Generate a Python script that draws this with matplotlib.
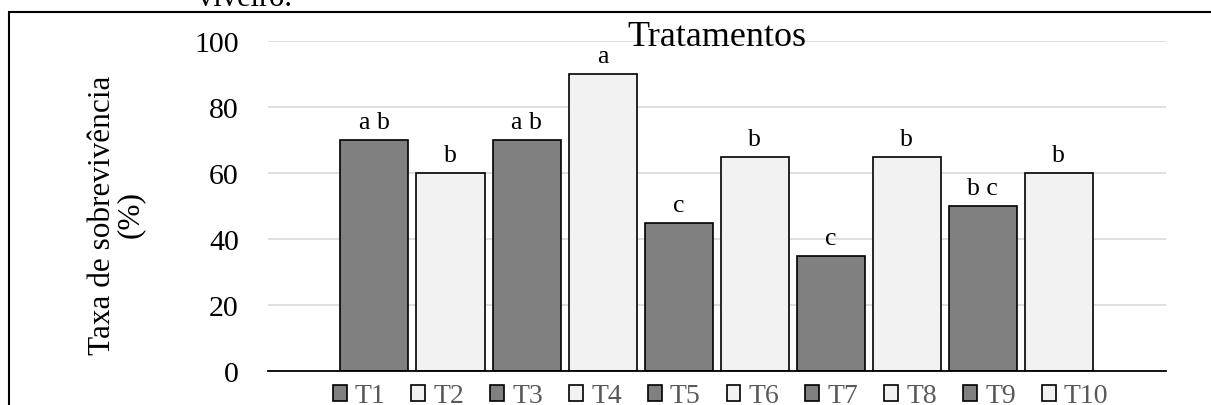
"""Survival rate per treatment, bar chart with significance letters."""

import matplotlib
matplotlib.use("Agg")
import matplotlib.pyplot as plt
from matplotlib.patches import Rectangle, Patch

plt.rcParams["font.family"] = ["Liberation Serif", "DejaVu Serif"]

treatments = ["T1", "T2", "T3", "T4", "T5", "T6", "T7", "T8", "T9", "T10"]
survival = [70, 60, 70, 90, 45, 65, 35, 65, 50, 60]
letters = ["a b", "b", "a b", "a", "c", "b", "c", "b", "b c", "b"]

DARK = "#808080"
LIGHT = "#F2F2F2"
colors = [DARK if i % 2 == 0 else LIGHT for i in range(len(treatments))]

W, H, DPI = 1211, 406, 100
fig = plt.figure(figsize=(W / DPI, H / DPI), dpi=DPI)
ax = fig.add_axes([268 / W, 1 - 372 / H, (1166 - 268) / W, (372 - 42) / H])

x = list(range(len(treatments)))
bars = ax.bar(x, survival, width=0.895, color=colors, edgecolor="black",
              linewidth=1.2, zorder=3)

for xi, val, lab in zip(x, survival, letters):
    ax.annotate(lab, (xi, val), xytext=(0, 5), textcoords="offset points",
                ha="center", va="bottom", fontsize=18.5)

ax.set_xlim(-1.40, 10.41)
ax.set_ylim(0, 100)
ax.set_yticks([0, 20, 40, 60, 80, 100])
ax.tick_params(axis="y", length=0, pad=21, labelsize=21.5)
ax.set_xticks([])
ax.yaxis.grid(True, color="#D9D9D9", linewidth=1.2, zorder=0)
ax.set_axisbelow(True)
for side in ("top", "right", "left"):
    ax.spines[side].set_visible(False)
ax.spines["bottom"].set_linewidth(1.3)
ax.spines["bottom"].set_zorder(4)

ax.set_ylabel("Taxa de sobrevivência\n(%)", fontsize=22.5, linespacing=0.95)
ax.yaxis.set_label_coords(-0.137, 0.476)

fig.text(717 / W, 1 - 38 / H, "Tratamentos", ha="center", va="center",
         fontsize=26)
fig.text(245 / W, 1 - 6 / H, "viveiro.", ha="center", va="baseline",
         fontsize=22)

handles = [Patch(facecolor=c, edgecolor="black", linewidth=1.2) for c in colors]
leg = fig.legend(handles, treatments, loc="center", ncol=10,
                 bbox_to_anchor=(720.5 / W, 1 - 397 / H), frameon=False,
                 fontsize=20, handlelength=0.5, handleheight=0.5,
                 handletextpad=0.3, columnspacing=0.93, borderpad=0)
for t in leg.get_texts():
    t.set_color("#595959")

# outer frame around the chart area
fig.patches.append(Rectangle((8.5 / W, -0.1), 1.2, 1 - 13 / H + 0.1,
                             transform=fig.transFigure, fill=False,
                             edgecolor="black", linewidth=1.5))

fig.savefig("out.png", dpi=DPI)
